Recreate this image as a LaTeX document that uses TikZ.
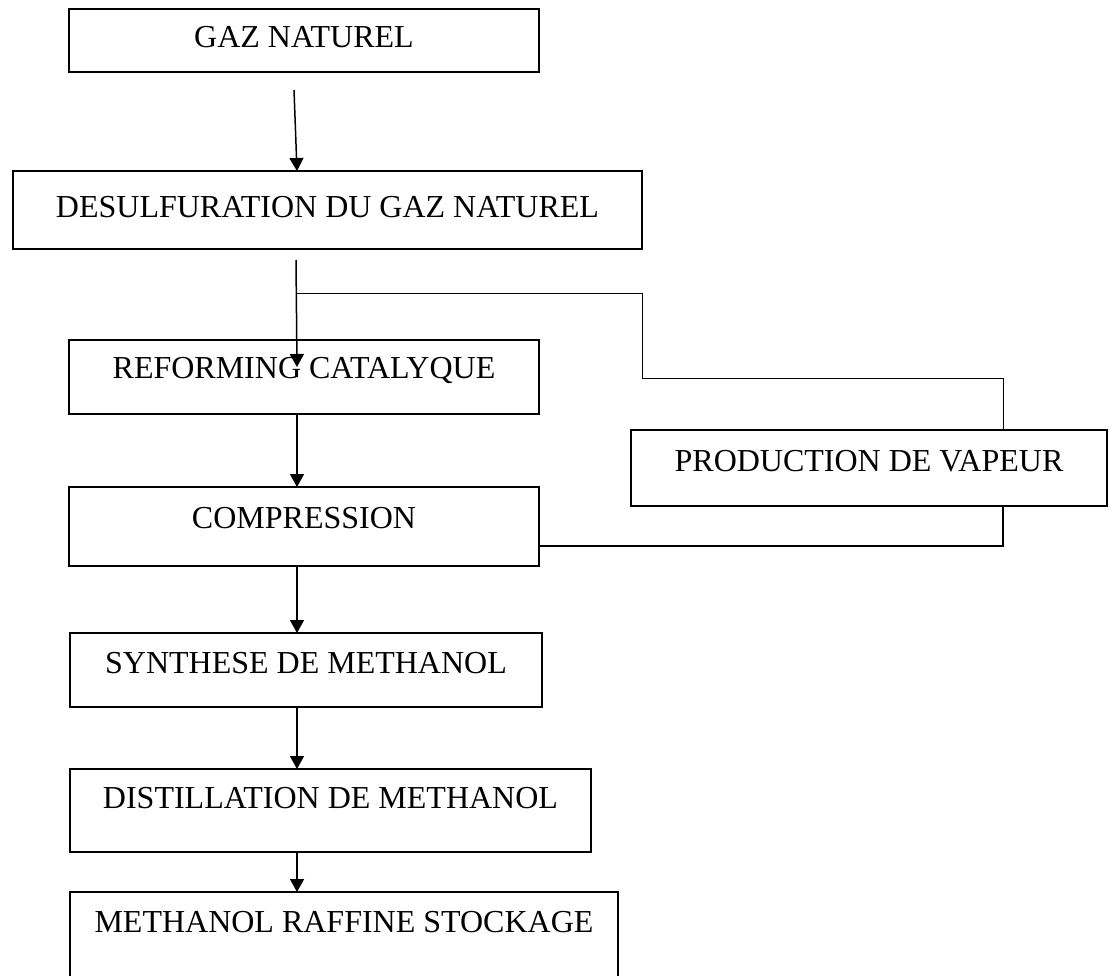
\documentclass[tikz,border=0pt]{standalone}
\usepackage{fontspec}
\setmainfont{Liberation Serif}
\usetikzlibrary{arrows.meta,calc}

\tikzset{
  etape/.style={draw, line width=1.5pt, inner sep=0pt, outer sep=0pt, anchor=north west,
    font=\fontsize{32pt}{38pt}\selectfont},
  fleche/.style={-{Triangle[length=13pt,width=14pt]}, line width=1.5pt},
  liaison/.style={line width=1pt}
}

\begin{document}
\begin{tikzpicture}[x=1pt,y=-1pt]
        \useasboundingbox (0,0) rectangle (1113,976);

        % etapes du procede
        \node[etape, minimum width=470pt, text height=39pt, text depth=24pt] (gaz) at (69,9) {GAZ NATUREL};
        \node[etape, minimum width=629pt, text height=47pt, text depth=31pt] (desulf) at (13,171) {DESULFURATION DU GAZ NATUREL};
        \node[etape, minimum width=470pt, text height=38pt, text depth=36pt] (reform) at (69,340) {REFORMING CATALYQUE};
        \node[etape, minimum width=470pt, text height=41pt, text depth=38pt] (compress) at (69,487) {COMPRESSION};
        \node[etape, minimum width=472pt, text height=40pt, text depth=34pt] (synth) at (70,633) {SYNTHESE DE METHANOL};
        \node[etape, minimum width=521pt, text height=39pt, text depth=44pt] (distil) at (70,769) {DISTILLATION DE METHANOL};
        \node[etape, minimum width=548pt, text height=40pt, text depth=48pt] (stock) at (70,892) {METHANOL RAFFINE STOCKAGE};

        % vapeur
        \node[etape, minimum width=476pt, text height=41pt, text depth=35pt] (vapeur) at (631,430) {PRODUCTION DE VAPEUR};

        % reperes
        \coordinate (axe) at (297,0);
        \coordinate (xv) at (1003,0);
        \coordinate (g1) at (294,90);
        \coordinate (d1) at (296,260);
        \coordinate (r1) at (297,367);
        \coordinate (branche) at (297,293);
        \coordinate (coude) at (642,378);

        % fleches principales
        \draw[fleche] (g1) -- (desulf.north -| axe);
        \draw[fleche] (d1) -- (r1);
        \draw[fleche] (reform.south -| axe) -- (compress.north -| axe);
        \draw[fleche] (compress.south -| axe) -- (synth.north -| axe);
        \draw[fleche] (synth.south -| axe) -- (distil.north -| axe);
        \draw[fleche] (distil.south -| axe) -- (stock.north -| axe);

        % circuit vapeur
        \draw[liaison] (branche) -| (coude) -| (vapeur.north -| xv);
        \draw[line width=1.5pt] (vapeur.south -| xv) |- ($(compress.south east)+(0,-20)$);
    \end{tikzpicture}
\end{document}
